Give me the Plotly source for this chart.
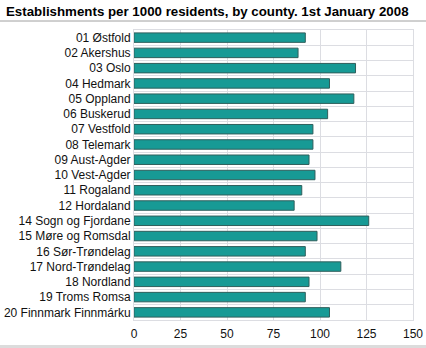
import plotly.graph_objects as go

counties = ["01 Østfold", "02 Akershus", "03 Oslo", "04 Hedmark", "05 Oppland",
            "06 Buskerud", "07 Vestfold", "08 Telemark", "09 Aust-Agder", "10 Vest-Agder",
            "11 Rogaland", "12 Hordaland", "14 Sogn og Fjordane", "15 Møre og Romsdal",
            "16 Sør-Trøndelag", "17 Nord-Trøndelag", "18 Nordland", "19 Troms Romsa",
            "20 Finnmark Finnmárku"]
values = [92.1, 88.2, 119.1, 105.1, 118.2, 104.1, 96.2, 96.2, 94.1, 97.3,
          90.2, 86.1, 126.2, 98.4, 92.1, 111.2, 94.1, 92.1, 105.1]
x_ticks = [0, 25, 50, 75, 100, 125, 150]

L, R, T, B = 134, 13, 30, 28
PW, PH = 426 - L - R, 348 - T - B

fig = go.Figure(go.Bar(
    x=values, y=counties, orientation="h",
    marker=dict(color="#179a95", line=dict(color="#2f5f5c", width=1)),
    width=0.62,
))

fig.update_layout(
    width=426, height=348,
    margin=dict(l=L, r=R, t=T, b=B, autoexpand=False),
    paper_bgcolor="white", plot_bgcolor="white",
    font=dict(family="Liberation Sans, Arial, sans-serif", size=12, color="#111"),
    showlegend=False,
    title=dict(text="<b>Establishments per 1000 residents, by county. 1st January 2008</b>",
               x=6/426, xanchor="left", y=1 - 11/348, yanchor="middle",
               font=dict(size=13.3, color="#000")),
    xaxis=dict(range=[0, 150], tickvals=x_ticks, showgrid=True, gridcolor="#dcdde2",
               gridwidth=1, zeroline=False, showline=True, linecolor="#dcdde2",
               mirror=True, ticks="", automargin=False, ticklabelstandoff=3,
               tickfont=dict(size=12, color="#111")),
    yaxis=dict(autorange="reversed", type="category", tickson="boundaries",
               showgrid=True, gridcolor="#dcdde2", gridwidth=1, showline=True,
               linecolor="#dcdde2", mirror=True, ticks="", ticklen=0, automargin=False,
               tickfont=dict(size=12, color="#111")),
    shapes=[
        dict(type="line", xref="paper", yref="paper", x0=-L/PW, x1=1 + R/PW,
             y0=1 + 9/PH, y1=1 + 9/PH, line=dict(color="#a0a0a0", width=1)),
        dict(type="rect", xref="paper", yref="paper", x0=-L/PW, x1=1 + R/PW,
             y0=-(B - 3)/PH, y1=-B/PH, fillcolor="#dcdcdc", line=dict(width=0)),
    ],
)

fig.write_html("out.html")
